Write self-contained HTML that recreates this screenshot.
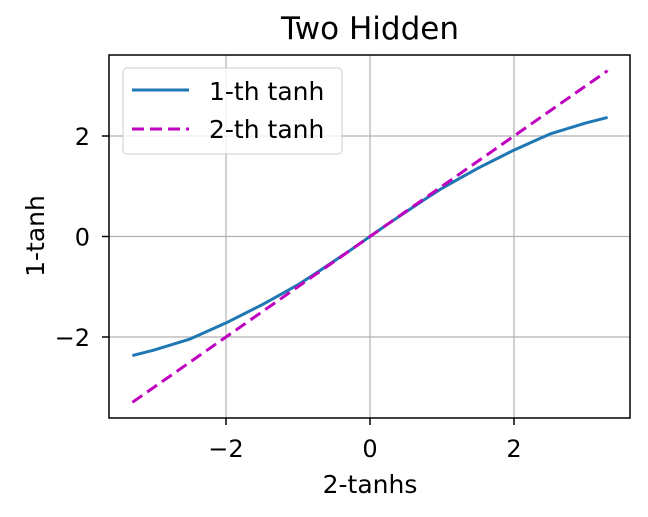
<!DOCTYPE html>
<html><head><meta charset="utf-8"><style>
body{margin:0;background:#fff;}
svg text{font-family:"DejaVu Sans","Liberation Sans",sans-serif;fill:#000;}
</style></head><body>
<svg id="chart" width="648" height="512" viewBox="0 0 648 512">
<text x="370" y="39" font-size="31" text-anchor="middle">Two Hidden</text>
<g id="grid"></g>
<g id="series"></g>
<rect x="109" y="55" width="521" height="363" fill="none" stroke="#000" stroke-width="1.5"/>
<g id="ticks"></g>
<text x="370" y="493" font-size="25" text-anchor="middle">2-tanhs</text>
<text transform="translate(44,236) rotate(-90)" font-size="25" text-anchor="middle">1-tanh</text>
<g>
<rect x="123" y="68" width="219" height="86" rx="4" fill="#fff" fill-opacity="0.8" stroke="#ccc"/>
<line x1="132" y1="90" x2="189" y2="90" stroke="#1f77b4" stroke-width="3"/>
<text x="209" y="100" font-size="25">1-th tanh</text>
<line x1="132" y1="129" x2="189" y2="129" stroke="#bf00bf" stroke-width="3" stroke-dasharray="12,6"/>
<text x="209" y="138" font-size="25">2-th tanh</text>
</g>
</svg>
<script>
const xValues=[-3.3,-3,-2.75,-2.5,-2.25,-2,-1.75,-1.5,-1.25,-1,-0.75,-0.5,-0.25,0,0.25,0.5,0.75,1,1.25,1.5,1.75,2,2.25,2.5,2.75,3,3.3];
const tanh1Values=[-2.37,-2.26,-2.15,-2.04,-1.88,-1.72,-1.54,-1.36,-1.16,-0.96,-0.73,-0.49,-0.25,0,0.25,0.49,0.73,0.96,1.16,1.36,1.54,1.72,1.88,2.04,2.15,2.26,2.37];
const tanh2Values=[-3.3,-3,-2.75,-2.5,-2.25,-2,-1.75,-1.5,-1.25,-1,-0.75,-0.5,-0.25,0,0.25,0.5,0.75,1,1.25,1.5,1.75,2,2.25,2.5,2.75,3,3.3];
const xTicks=[-2,0,2];
const yTicks=[-2,0,2];
const xTickLabels=["\u22122","0","2"];
const yTickLabels=["\u22122","0","2"];
const NS="http://www.w3.org/2000/svg";
const sx=v=>370+v*72, sy=v=>236.5-v*50.25;
function mk(tag,attrs,parent){const e=document.createElementNS(NS,tag);for(const k in attrs)e.setAttribute(k,attrs[k]);document.getElementById(parent).appendChild(e);return e;}
xTicks.forEach((t,i)=>{
 let g=mk('line',{x1:sx(t),x2:sx(t),y1:55,y2:418,stroke:'#b0b0b0','stroke-width':1.2},'grid');
 
 
 let tk=mk('line',{x1:sx(t),x2:sx(t),y1:418,y2:425,stroke:'#000','stroke-width':1.5},'ticks');
 
 
 let tx=mk('text',{x:sx(t),y:457,'font-size':24,'text-anchor':'middle'},'ticks');
 tx.textContent=xTickLabels[i];
 
 
});
yTicks.forEach((t,i)=>{
 let g=mk('line',{x1:109,x2:630,y1:sy(t),y2:sy(t),stroke:'#b0b0b0','stroke-width':1.2},'grid');
 
 
 let tk=mk('line',{x1:102,x2:109,y1:sy(t),y2:sy(t),stroke:'#000','stroke-width':1.5},'ticks');
 
 
 let tx=mk('text',{x:90,y:sy(t)+9,'font-size':24,'text-anchor':'end'},'ticks');
 tx.textContent=yTickLabels[i];
 
 
});
const pts=ys=>xValues.map((x,i)=>sx(x)+','+sy(ys[i])).join(' ');
let l1=mk('polyline',{points:pts(tanh1Values),fill:'none',stroke:'#1f77b4','stroke-width':3,'stroke-linejoin':'round'},'series');


let l2=mk('polyline',{points:pts(tanh2Values),fill:'none',stroke:'#bf00bf','stroke-width':3,'stroke-dasharray':'12,6'},'series');


</script>
</body></html>
